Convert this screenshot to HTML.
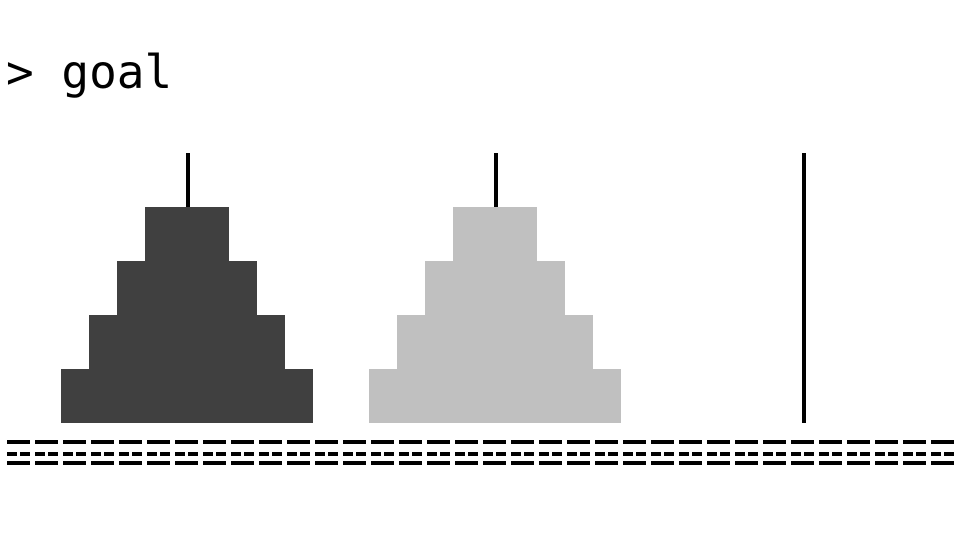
<!DOCTYPE html>
<html><head><meta charset="utf-8"><style>
html,body{margin:0;padding:0;background:#fff;width:960px;height:540px;overflow:hidden}
.t{position:absolute;left:6px;top:45px;font-family:"DejaVu Sans Mono","Liberation Mono",monospace;font-size:46px;color:#000;white-space:pre}
svg{position:absolute;left:0;top:0}
</style></head><body>
<div class="t">&gt; goal</div>
<svg width="960" height="540">
<g id="g"></g>
</svg>
<script>
const pegCenters=[187,495,803];
const diskCounts=[4,4,0];
const diskColors=['#404040','#c0c0c0','#404040'];
const g=document.getElementById('g');
const NS='http://www.w3.org/2000/svg';
function rect(x,y,w,h,f,name){const r=document.createElementNS(NS,'rect');r.setAttribute('x',x);r.setAttribute('y',y);r.setAttribute('width',w);r.setAttribute('height',h);r.setAttribute('fill',f);


g.appendChild(r);}
pegCenters.forEach((c,i)=>{
  rect(c-1,153,4,270,'#000','peg-'+(i+1));
  for(let k=0;k<diskCounts[i];k++){
    const w=252-56*k;
    rect(c-w/2,369-54*k,w,54,diskColors[i],'disk-'+(i+1)+'-'+(k+1));
  }
});
for(let j=0;j<34;j++){
  const x=7+28*j;
  rect(x,440,23,4,'#000','base-top');
  rect(x,452,10,4,'#000','base-mid-left');
  rect(x+13,452,10,4,'#000','base-mid-right');
  rect(x,461,23,4,'#000','base-bottom');
}
</script>
</body></html>
